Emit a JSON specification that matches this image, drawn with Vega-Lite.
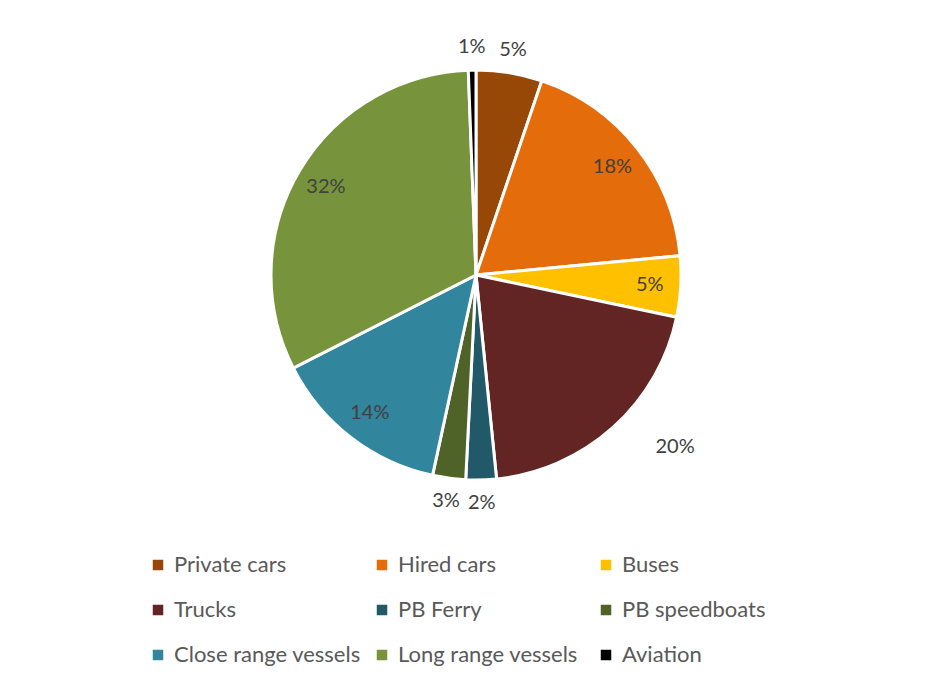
{
  "$schema": "https://vega.github.io/schema/vega-lite/v6.json",
  "autosize": "none",
  "width": 906,
  "height": 550,
  "padding": {"left": 23, "top": 0, "right": 0, "bottom": 133},
  "background": "white",
  "config": {"view": {"stroke": null}, "font": "Lato"},
  "data": {
    "values": [
      {"cat": "Private cars", "value": 5.2, "idx": 1},
      {"cat": "Hired cars", "value": 18.3, "idx": 2},
      {"cat": "Buses", "value": 4.8, "idx": 3},
      {"cat": "Trucks", "value": 20.1, "idx": 4},
      {"cat": "PB Ferry", "value": 2.4, "idx": 5},
      {"cat": "PB speedboats", "value": 2.6, "idx": 6},
      {"cat": "Close range vessels", "value": 14.1, "idx": 7},
      {"cat": "Long range vessels", "value": 31.9, "idx": 8},
      {"cat": "Aviation", "value": 0.6, "idx": 9}
    ]
  },
  "transform": [{"calculate": "format(datum.value, '.0f') + '%'", "as": "label"}],
  "encoding": {
    "theta": {"field": "value", "type": "quantitative", "stack": true},
    "order": {"field": "idx", "type": "quantitative"}
  },
  "layer": [
    {
      "mark": {"type": "arc", "outerRadius": 205, "stroke": "white", "strokeWidth": 3},
      "encoding": {
        "color": {
          "field": "cat",
          "type": "nominal",
          "scale": {
            "domain": ["Private cars", "Hired cars", "Buses", "Trucks", "PB Ferry", "PB speedboats", "Close range vessels", "Long range vessels", "Aviation"],
            "range": ["#974706", "#E46C0A", "#FFC000", "#632523", "#215968", "#4F6228", "#31859C", "#77933C", "#000000"]
          },
          "legend": {
            "title": null,
            "orient": "none",
            "legendX": 124,
            "legendY": 554,
            "direction": "horizontal",
            "columns": 3,
            "gridAlign": "all",
            "columnPadding": 10,
            "rowPadding": 23,
            "symbolType": "square",
            "symbolSize": 110,
            "symbolStrokeWidth": 0,
            "labelFontSize": 22,
            "labelFont": "Lato",
            "labelColor": "#595959",
            "labelOffset": 5,
            "labelLimit": 300
          }
        }
      }
    },
    {
      "mark": {"type": "text", "radius": 174, "fontSize": 20, "font": "Lato", "color": "#404040"},
      "encoding": {
        "text": {"field": "label"},
        "opacity": {
          "condition": {"test": "indexof(['Hired cars','Buses','Close range vessels','Long range vessels'], datum.cat) >= 0", "value": 1},
          "value": 0
        }
      }
    },
    {
      "mark": {"type": "text", "radius": 228, "fontSize": 20, "font": "Lato", "color": "#404040"},
      "encoding": {
        "text": {"field": "label"},
        "opacity": {
          "condition": {"test": "indexof(['Private cars','PB Ferry','PB speedboats','Aviation'], datum.cat) >= 0", "value": 1},
          "value": 0
        }
      }
    },
    {
      "mark": {"type": "text", "radius": 265, "dx": 22, "dy": -25, "fontSize": 20, "font": "Lato", "color": "#404040"},
      "encoding": {
        "text": {"field": "label"},
        "opacity": {
          "condition": {"test": "datum.cat === 'Trucks'", "value": 1},
          "value": 0
        }
      }
    }
  ]
}
